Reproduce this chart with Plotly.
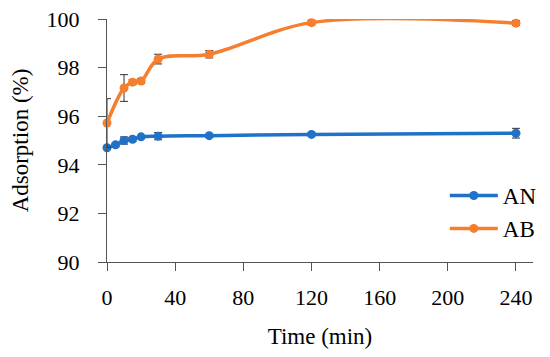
import plotly.graph_objects as go

time_min = [0, 5, 10, 15, 20, 30, 60, 120, 240]
an_values = [94.7, 94.82, 95.0, 95.05, 95.15, 95.18, 95.2, 95.25, 95.3]
an_errors = [0.05, 0.08, 0.15, 0.08, 0.05, 0.15, 0.05, 0.05, 0.2]
ab_time = [0, 10, 15, 20, 30, 60, 120, 240]
ab_vals = [95.72, 97.16, 97.4, 97.45, 98.35, 98.55, 99.85, 99.83]
ab_errs = [1.0, 0.55, 0.1, 0.1, 0.2, 0.15, 0.1, 0.1]

x_ticks = [0, 40, 80, 120, 160, 200, 240]
y_ticks = [90, 92, 94, 96, 98, 100]

font_family = "'Liberation Serif', 'DejaVu Serif', serif"
blue = "#1F72C8"
orange = "#F57F2E"

fig = go.Figure()
fig.add_trace(go.Scatter(
    x=time_min, y=an_values, name="AN", mode="lines+markers",
    line=dict(color=blue, width=3.5, shape="spline", smoothing=1),
    marker=dict(size=9, color=blue),
    error_y=dict(type="data", array=an_errors, color="#333333", thickness=1, width=4),
    cliponaxis=False,
))
fig.add_trace(go.Scatter(
    x=ab_time, y=ab_vals, name="AB", mode="lines+markers",
    line=dict(color=orange, width=3.5, shape="spline", smoothing=1),
    marker=dict(size=9, color=orange),
    error_y=dict(type="data", array=ab_errs, color="#333333", thickness=1, width=4),
    cliponaxis=False,
))

fig.update_layout(
    width=550, height=357,
    margin=dict(l=99, r=25, t=11, b=103),
    paper_bgcolor="white", plot_bgcolor="white",
    font=dict(family=font_family, size=22, color="black"),
    showlegend=True,
    legend=dict(x=0.793, y=0.362, xanchor="left", yanchor="top", itemwidth=48,
                bgcolor="rgba(0,0,0,0)", font=dict(size=23), tracegroupgap=4),
    xaxis=dict(
        range=[0, 250], tickvals=x_ticks, ticktext=[str(v) for v in x_ticks],
        showgrid=False, zeroline=False, showline=True, linecolor="#555555", linewidth=1,
        ticks="outside", ticklen=8, tickcolor="#555555", automargin=False,
        ticklabelstandoff=8, ticklabeloverflow="allow",
        title=dict(text="Time (min)", font=dict(size=23), standoff=18),
    ),
    yaxis=dict(
        range=[90, 100], tickvals=y_ticks, ticktext=[str(v) for v in y_ticks],
        showgrid=False, zeroline=False, showline=True, linecolor="#555555", linewidth=1,
        ticks="outside", ticklen=8, tickcolor="#555555", automargin=False,
        ticklabelstandoff=14, ticklabeloverflow="allow",
        title=dict(text="Adsorption (%)", font=dict(size=23), standoff=12),
    ),
)

fig.write_html("out.html")
